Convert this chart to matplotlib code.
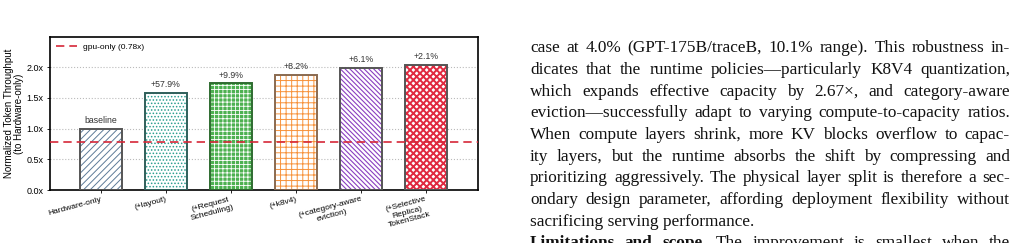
import matplotlib
matplotlib.use("Agg")
import matplotlib.pyplot as plt
import numpy as np

categories = ["Hardware-only", "(+layout)", "(+Request\nScheduling)", "(+k8v4)",
              "(+category-aware\neviction)", "(+Selective\nReplica)\nTokenStack"]
values = [1.0, 1.579, 1.735, 1.877, 1.992, 2.034]
annotations = ["baseline", "+57.9%", "+9.9%", "+8.2%", "+6.1%", "+2.1%"]
gpu_only = 0.78
yticks = [0.0, 0.5, 1.0, 1.5, 2.0]

hatch_colors = ["#5d7b98", "#2a9d8f", "#ffffff", "#f7923a", "#8a3fc0", "#e02a40"]
face_colors = ["white", "white", "#4db151", "white", "white", "white"]
hatches = ["/////", ".....", "++++", "+++", "\\\\\\\\\\\\\\", "xxxxx"]
hatch_lws = [0.7, 0.7, 0.6, 0.7, 0.8, 1.4]
edge_colors = ["#555555", "#2f5f5a", "#2e6b30", "#8a6a50", "#555555", "#555555"]

paragraph = [
    "case at 4.0% (GPT-175B/traceB, 10.1% range). This robustness in-",
    "dicates that the runtime policies\u2014particularly K8V4 quantization,",
    "which expands effective capacity by 2.67\u00d7, and category-aware",
    "eviction\u2014successfully adapt to varying compute-to-capacity ratios.",
    "When compute layers shrink, more KV blocks overflow to capac-",
    "ity layers, but the runtime absorbs the shift by compressing and",
    "prioritizing aggressively. The physical layer split is therefore a sec-",
    "ondary design parameter, affording deployment flexibility without",
    "sacrificing serving performance.",
]
last_bold = "Limitations and scope."
last_rest = "The improvement is smallest when the"

W, H = 1019, 243
fig = plt.figure(figsize=(W / 100, H / 100), dpi=100)
sans = ["Liberation Sans", "DejaVu Sans"]

ax = fig.add_axes([50 / W, 1 - 190 / H, 428 / W, 153 / H])
x = np.arange(len(categories))
w = 0.65
for i in range(len(categories)):
    with plt.rc_context({"hatch.linewidth": hatch_lws[i]}):
        ax.bar(x[i], values[i], width=w, color=face_colors[i], edgecolor=hatch_colors[i],
               hatch=hatches[i], linewidth=0, zorder=2)
    ax.bar(x[i], values[i], width=w, fill=False, edgecolor=edge_colors[i],
           linewidth=1.4, zorder=3)
    ax.text(x[i], values[i] + 0.06, annotations[i], ha="center", va="bottom",
            fontsize=6.3, color="#333333", family=sans)

ax.axhline(gpu_only, color="#d62738", lw=1.2, ls=(0, (5, 3)), zorder=4,
           label="gpu-only (0.78x)")
ax.set_xlim(-0.78, 5.8)
ax.set_ylim(0, 2.49)
ax.set_yticks(yticks)
ax.set_yticklabels([f"{v:.1f}x" for v in yticks], fontsize=6.5, family=sans)
ax.set_xticks(x)
ax.set_xticklabels(categories, rotation=15, ha="right", rotation_mode="anchor",
                   fontsize=6, family=sans, multialignment="center")
ax.tick_params(axis="x", length=2, width=0.6, pad=2)
ax.tick_params(axis="y", length=2.5, width=0.6, pad=2)
ax.yaxis.grid(True, ls=":", color="#bbbbbb", lw=0.8, zorder=0)
ax.set_axisbelow(True)
for s in ax.spines.values():
    s.set_linewidth(1.2)
ax.set_ylabel("Normalized Token Throughput\n(to Hardware-only)", fontsize=7,
              family=sans, labelpad=2, linespacing=1.0)
ax.legend(loc="upper left", frameon=False, handlelength=2.5,
          borderaxespad=0.3, prop={"family": sans, "size": 6})

# Right-hand paragraph, justified
renderer = fig.canvas.get_renderer()
left_px, right_px = 530, 1010
line_h = 21.67
y0 = 48.3
serif = ["Liberation Serif", "DejaVu Serif"]

probe = fig.text(0, 0, paragraph[3], fontsize=10, family=serif)
fs = 10 * (right_px - left_px) / probe.get_window_extent(renderer).width * 0.97
probe.remove()


def place_line(words, y_px, weights=None):
    texts, widths = [], []
    for j, wd in enumerate(words):
        wt = weights[j] if weights else "normal"
        t = fig.text(0, 1 - y_px / H, wd, fontsize=fs, family=serif, weight=wt,
                     va="center", ha="left", color="#111111")
        texts.append(t)
        widths.append(t.get_window_extent(renderer).width)
    gap = (right_px - left_px - sum(widths)) / (len(words) - 1)
    xp = left_px
    for t, wdt in zip(texts, widths):
        t.set_x(xp / W)
        xp += wdt + gap


for k, line in enumerate(paragraph[:-1]):
    place_line(line.split(" "), y0 + k * line_h)
fig.text(left_px / W, 1 - (y0 + (len(paragraph) - 1) * line_h) / H, paragraph[-1],
         fontsize=fs, family=serif, va="center", ha="left", color="#111111")

bw = last_bold.split(" ")
rw = last_rest.split(" ")
place_line(bw + rw, y0 + len(paragraph) * line_h,
           ["bold"] * len(bw) + ["normal"] * len(rw))

fig.savefig("out.png", dpi=100)
